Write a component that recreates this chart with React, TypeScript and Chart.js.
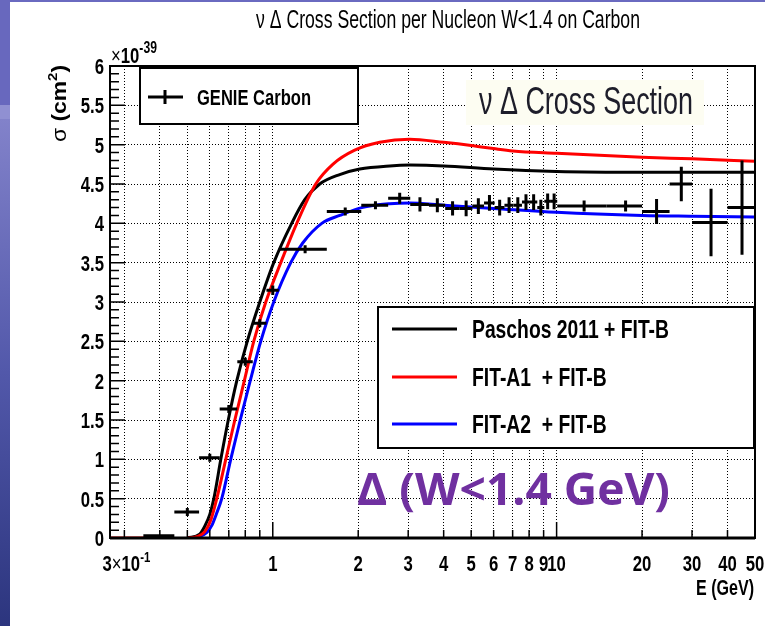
import React, { useEffect, useRef } from 'react';
import { Chart, registerables } from 'chart.js';

Chart.register(...registerables);

// ---------- axis ranges & ticks ----------
const X_MIN = 0.267;
const X_MAX = 50;
const Y_MIN = 0;
const Y_MAX = 6;

const xGridValues = [0.3, 0.4, 0.5, 0.6, 0.7, 0.8, 0.9, 1, 2, 3, 4, 5, 6, 7, 8, 9, 10, 20, 30, 40, 50];
const xTickLabels = ['', '', '', '', '', '', '', '1', '2', '3', '4', '5', '6', '7', '8', '9', '10', '20', '30', '40', '50'];
const xMajorTicks = [1, 10];
const yTickValues = [0, 0.5, 1, 1.5, 2, 2.5, 3, 3.5, 4, 4.5, 5, 5.5, 6];
const yTickLabels = ['0', '0.5', '1', '1.5', '2', '2.5', '3', '3.5', '4', '4.5', '5', '5.5', '6'];

// ---------- GENIE Carbon (histogram points, ×10^-39 cm²) ----------
const genieCenter = [0.4, 0.5, 0.6, 0.7, 0.8, 0.9, 1.0, 1.3, 1.8, 2.3, 2.8, 3.3, 3.8, 4.3, 4.8, 5.3, 5.8, 6.3, 6.8, 7.3, 7.8, 8.3, 8.8, 9.3, 9.8, 12.5, 17.5, 22.5, 27.5, 35, 45];
const genieLow = [0.35, 0.45, 0.55, 0.65, 0.75, 0.85, 0.95, 1.05, 1.55, 2.05, 2.55, 3.05, 3.55, 4.05, 4.55, 5.05, 5.55, 6.05, 6.55, 7.05, 7.55, 8.05, 8.55, 9.05, 9.55, 10.05, 15, 20, 25, 30, 40];
const genieHigh = [0.45, 0.55, 0.65, 0.75, 0.85, 0.95, 1.05, 1.55, 2.05, 2.55, 3.05, 3.55, 4.05, 4.55, 5.05, 5.55, 6.05, 6.55, 7.05, 7.55, 8.05, 8.55, 9.05, 9.55, 10.05, 15, 20, 25, 30, 40, 50];
const genieValue = [0.03, 0.33, 1.02, 1.64, 2.24, 2.73, 3.15, 3.67, 4.15, 4.23, 4.32, 4.24, 4.23, 4.19, 4.19, 4.22, 4.26, 4.2, 4.23, 4.23, 4.27, 4.27, 4.2, 4.28, 4.28, 4.22, 4.22, 4.15, 4.5, 4.01, 4.2];
const genieError = [0.01, 0.05, 0.05, 0.05, 0.05, 0.05, 0.06, 0.05, 0.05, 0.05, 0.07, 0.09, 0.09, 0.09, 0.1, 0.1, 0.1, 0.1, 0.1, 0.1, 0.1, 0.1, 0.1, 0.1, 0.1, 0.07, 0.07, 0.16, 0.22, 0.43, 0.6];

// ---------- model curves ----------
const paschosE = [0.5, 0.553, 0.576, 0.6, 0.62, 0.656, 0.697, 0.747, 0.813, 0.9, 1.008, 1.166, 1.296, 1.464, 1.721, 2.025, 2.582, 3.037, 4, 6, 10, 20, 50];
const paschosSigma = [0, 0.05, 0.15, 0.3, 0.5, 1.0, 1.5, 2.0, 2.5, 3.0, 3.5, 4.0, 4.3, 4.5, 4.62, 4.69, 4.73, 4.74, 4.73, 4.69, 4.66, 4.65, 4.65];

const fitA1E = [0.267, 0.44, 0.47, 0.5, 0.544, 0.576, 0.605, 0.635, 0.683, 0.735, 0.794, 0.857, 0.945, 1.067, 1.215, 1.417, 1.627, 1.944, 2.381, 3.037, 4, 5, 6, 7, 10, 20, 30, 50];
const fitA1Sigma = [0, 0, null, 0, 0.02, 0.08, 0.23, 0.5, 1.0, 1.5, 2.0, 2.5, 3.0, 3.5, 4.0, 4.5, 4.75, 4.93, 5.03, 5.07, 5.03, 4.99, 4.95, 4.92, 4.89, 4.84, 4.82, 4.79];

const fitA2E = [0.5, 0.553, 0.586, 0.61, 0.632, 0.661, 0.711, 0.768, 0.833, 0.907, 1.008, 1.157, 1.275, 1.488, 1.721, 2.058, 2.582, 3.037, 4, 6, 10, 20, 30, 50];
const fitA2Sigma = [0, 0.02, 0.07, 0.16, 0.3, 0.5, 1.0, 1.5, 2.0, 2.5, 3.0, 3.5, 3.75, 4.0, 4.1, 4.2, 4.25, 4.26, 4.23, 4.19, 4.14, 4.1, 4.09, 4.08];

// ---------- texts ----------
const TITLE = 'ν Δ Cross Section per Nucleon W<1.4 on Carbon';
const INSET = 'ν Δ Cross Section';
const NOTE = 'Δ (W<1.4 GeV)';
const LEGEND_GENIE = 'GENIE Carbon';
const LEGEND_LABELS = ['Paschos 2011 + FIT-B', 'FIT-A1  + FIT-B', 'FIT-A2  + FIT-B'];
const LEGEND_COLORS = ['#000000', '#ff0000', '#0000ff'];

const FAM = '"Liberation Sans", Arial, sans-serif';
const BOLD = (s: number) => `bold ${s}px ${FAM}`;
const REG = (s: number) => `${s}px ${FAM}`;
const SX = 0.76;

type Run = { t: string; f: string; dy?: number };

function drawText(
  ctx: CanvasRenderingContext2D,
  text: string,
  x: number,
  y: number,
  font: string,
  opts: { sx?: number; width?: number; align?: CanvasTextAlign; color?: string } = {}
) {
  ctx.save();
  ctx.font = font;
  const w = ctx.measureText(text).width;
  const sx = opts.width ? opts.width / w : opts.sx ?? 1;
  ctx.translate(x, y);
  ctx.scale(sx, 1);
  ctx.textAlign = opts.align ?? 'left';
  ctx.textBaseline = 'alphabetic';
  ctx.fillStyle = opts.color ?? '#000';
  ctx.fillText(text, 0, 0);
  ctx.restore();
  return w * sx;
}

function runsWidth(ctx: CanvasRenderingContext2D, runs: Run[]) {
  let w = 0;
  for (const r of runs) {
    ctx.font = r.f;
    w += ctx.measureText(r.t).width;
  }
  return w;
}

function drawRuns(ctx: CanvasRenderingContext2D, runs: Run[], x: number, y: number, sx: number, color = '#000') {
  let cx = x;
  for (const r of runs) {
    ctx.save();
    ctx.font = r.f;
    const w = ctx.measureText(r.t).width;
    ctx.translate(cx, y + (r.dy || 0));
    ctx.scale(sx, 1);
    ctx.fillStyle = color;
    ctx.textAlign = 'left';
    ctx.textBaseline = 'alphabetic';
    ctx.fillText(r.t, 0, 0);
    ctx.restore();
    cx += w * sx;
  }
  return cx - x;
}

const backgroundPlugin = {
  id: 'slideBackground',
  beforeDraw(chart: any) {
    const { ctx, width, height } = chart;
    ctx.save();
    ctx.fillStyle = '#ffffff';
    ctx.fillRect(0, 0, width, height);
    ctx.fillStyle = '#6a6ac0';
    ctx.fillRect(0, 0, width, 2);
    ctx.fillStyle = '#6868be';
    ctx.fillRect(0, 0, 10, 105);
    ctx.fillStyle = '#9090d2';
    ctx.fillRect(0, 105, 10, 14);
    const g = ctx.createLinearGradient(0, 119, 0, height);
    g.addColorStop(0, '#8282ca');
    g.addColorStop(0.5, '#5258aa');
    g.addColorStop(1, '#2c357e');
    ctx.fillStyle = g;
    ctx.fillRect(0, 119, 10, height - 119);
    ctx.restore();
  },
};

const errorBarPlugin = {
  id: 'genieErrorBars',
  afterDatasetsDraw(chart: any) {
    const { ctx, scales } = chart;
    const xs = scales.x;
    const ys = scales.y;
    ctx.save();
    ctx.strokeStyle = '#000';
    ctx.lineWidth = 3;
    ctx.lineCap = 'butt';
    for (let i = 0; i < genieCenter.length; i++) {
      const x0 = xs.getPixelForValue(genieLow[i]);
      const x1 = xs.getPixelForValue(genieHigh[i]);
      const xc = xs.getPixelForValue(genieCenter[i]);
      const y = ys.getPixelForValue(genieValue[i]);
      const ya = ys.getPixelForValue(genieValue[i] - genieError[i]);
      const yb = ys.getPixelForValue(genieValue[i] + genieError[i]);
      ctx.beginPath();
      ctx.moveTo(x0, y);
      ctx.lineTo(x1, y);
      ctx.moveTo(xc, ya);
      ctx.lineTo(xc, yb);
      ctx.stroke();
    }
    ctx.restore();
  },
};

const decorPlugin = {
  id: 'rootDecor',
  afterDraw(chart: any) {
    const { ctx, scales, chartArea } = chart;
    const xs = scales.x;
    const ys = scales.y;
    const { left, right, top, bottom } = chartArea;
    ctx.save();

    // inner tick marks
    ctx.strokeStyle = '#000';
    ctx.lineWidth = 1.5;
    ctx.beginPath();
    for (let k = 0; k <= 60; k++) {
      const v = k / 10;
      const py = ys.getPixelForValue(v);
      const len = k % 5 === 0 ? 15 : 9;
      ctx.moveTo(left, py);
      ctx.lineTo(left + len, py);
    }
    for (const v of xGridValues) {
      const px = xs.getPixelForValue(v);
      const len = xMajorTicks.includes(v) ? 16 : 8;
      ctx.moveTo(px, bottom);
      ctx.lineTo(px, bottom - len);
    }
    ctx.stroke();

    // frame
    ctx.lineWidth = 2;
    ctx.strokeRect(left, top, right - left, bottom - top);
    ctx.lineWidth = 3;
    ctx.beginPath();
    ctx.moveTo(left, bottom);
    ctx.lineTo(right, bottom);
    ctx.stroke();

    // y tick labels
    yTickValues.forEach((v, i) => {
      const py = ys.getPixelForValue(v);
      drawText(ctx, yTickLabels[i], left - 6, py + 8, BOLD(22), { sx: SX, align: 'right' });
    });
    // x tick labels
    xGridValues.forEach((v, i) => {
      if (!xTickLabels[i]) return;
      const px = xs.getPixelForValue(v);
      drawText(ctx, xTickLabels[i], px, 571, BOLD(22), { sx: SX, align: 'center' });
    });
    // 3×10^-1 label
    const firstRuns: Run[] = [
      { t: '3', f: BOLD(22) },
      { t: '×', f: REG(22) },
      { t: '10', f: BOLD(22) },
      { t: '-1', f: BOLD(15), dy: -9 },
    ];
    const fw = runsWidth(ctx, firstRuns) * SX;
    drawRuns(ctx, firstRuns, xs.getPixelForValue(0.3) - fw / 2 + 2, 571, SX);

    // ×10^-39 exponent
    drawRuns(
      ctx,
      [
        { t: '×', f: REG(22) },
        { t: '10', f: BOLD(22) },
        { t: '-39', f: BOLD(16), dy: -10 },
      ],
      left + 1,
      63,
      SX
    );

    // y axis title
    const yRuns: Run[] = [
      { t: 'σ', f: REG(20) },
      { t: ' (cm', f: BOLD(20) },
      { t: '2', f: BOLD(13), dy: -9 },
      { t: ')', f: BOLD(20) },
    ];
    const ysx = 77 / runsWidth(ctx, yRuns);
    ctx.save();
    ctx.translate(66, 142);
    ctx.rotate(-Math.PI / 2);
    drawRuns(ctx, yRuns, 0, 0, ysx);
    ctx.restore();

    // x axis title
    drawText(ctx, 'E (GeV)', 754, 595, BOLD(22), { width: 58, align: 'right' });

    // main title
    drawText(ctx, TITLE, 448, 28, REG(26), { width: 384, align: 'center' });

    // inset label with cream background
    ctx.fillStyle = '#fdfdf2';
    ctx.fillRect(466, 80, 238, 45);
    drawText(ctx, INSET, 479, 114, REG(38), { width: 214, color: '#1d1d2a' });

    // GENIE legend box
    ctx.fillStyle = '#fff';
    ctx.fillRect(140, 68, 218, 56);
    ctx.strokeStyle = '#000';
    ctx.lineWidth = 2;
    ctx.strokeRect(140, 68, 218, 56);
    ctx.lineWidth = 3;
    ctx.beginPath();
    ctx.moveTo(148, 97);
    ctx.lineTo(183, 97);
    ctx.moveTo(165, 90);
    ctx.lineTo(165, 104);
    ctx.stroke();
    drawText(ctx, LEGEND_GENIE, 197, 105, BOLD(22), { width: 114 });

    // curve legend box
    ctx.fillStyle = '#fff';
    ctx.fillRect(378, 307, 376, 141);
    ctx.lineWidth = 2;
    ctx.strokeRect(378, 307, 376, 141);
    const rows = [329, 377, 424];
    ctx.font = BOLD(25);
    const lsx = 197 / ctx.measureText(LEGEND_LABELS[0]).width;
    rows.forEach((ry, i) => {
      ctx.strokeStyle = LEGEND_COLORS[i];
      ctx.lineWidth = 3;
      ctx.beginPath();
      ctx.moveTo(392, ry);
      ctx.lineTo(457, ry);
      ctx.stroke();
      drawText(ctx, LEGEND_LABELS[i], 472, ry + 9, BOLD(25), { sx: lsx });
    });

    // purple annotation
    drawText(ctx, NOTE, 357, 505, `bold 45px "Open Sans", "Noto Sans", sans-serif`, { width: 313, color: '#7030a0' });

    ctx.restore();
  },
};

export default function App() {
  const canvasRef = useRef<HTMLCanvasElement | null>(null);

  useEffect(() => {
    document.body.style.margin = '0';
    const canvas = canvasRef.current;
    if (!canvas) return;
    const toPts = (xs: number[], ys: (number | null)[]) => xs.map((x, i) => ({ x, y: ys[i] }));
    const chart = new Chart(canvas, {
      type: 'line',
      data: {
        datasets: [
          {
            label: 'FIT-A1 + FIT-B',
            data: toPts(fitA1E, fitA1Sigma) as any,
            borderColor: '#ff0000',
            borderWidth: 3,
            pointRadius: 0,
            cubicInterpolationMode: 'monotone',
            spanGaps: false,
            fill: false,
          },
          {
            label: 'Paschos 2011 + FIT-B',
            data: toPts(paschosE, paschosSigma) as any,
            borderColor: '#000000',
            borderWidth: 3,
            pointRadius: 0,
            cubicInterpolationMode: 'monotone',
            fill: false,
          },
          {
            label: 'FIT-A2 + FIT-B',
            data: toPts(fitA2E, fitA2Sigma) as any,
            borderColor: '#0000ff',
            borderWidth: 3,
            pointRadius: 0,
            cubicInterpolationMode: 'monotone',
            fill: false,
          },
          {
            label: 'GENIE Carbon',
            data: toPts(genieCenter, genieValue) as any,
            showLine: false,
            pointRadius: 0,
            borderColor: '#000',
          },
        ],
      },
      options: {
        responsive: false,
        animation: false,
        events: [],
        layout: { padding: { left: 110, right: 10, top: 66, bottom: 88 } },
        plugins: {
          legend: { display: false },
          title: { display: false },
          tooltip: { enabled: false },
        },
        scales: {
          x: {
            type: 'logarithmic',
            min: X_MIN,
            max: X_MAX,
            afterBuildTicks: (s: any) => {
              s.ticks = xGridValues.map((v) => ({ value: v }));
            },
            ticks: { display: false },
            grid: { drawTicks: false, color: '#000', lineWidth: 1 },
            border: { display: false, dash: [1, 2] },
          },
          y: {
            type: 'linear',
            min: Y_MIN,
            max: Y_MAX,
            afterBuildTicks: (s: any) => {
              s.ticks = yTickValues.map((v) => ({ value: v }));
            },
            ticks: { display: false },
            grid: { drawTicks: false, color: '#000', lineWidth: 1 },
            border: { display: false, dash: [1, 2] },
          },
        },
      },
      plugins: [backgroundPlugin, errorBarPlugin, decorPlugin],
    } as any);
    return () => chart.destroy();
  }, []);

  return (
    <div style={{ width: 765, height: 626 }}>
      <canvas ref={canvasRef} width={765} height={626} style={{ display: 'block', width: 765, height: 626 }} />
    </div>
  );
}
